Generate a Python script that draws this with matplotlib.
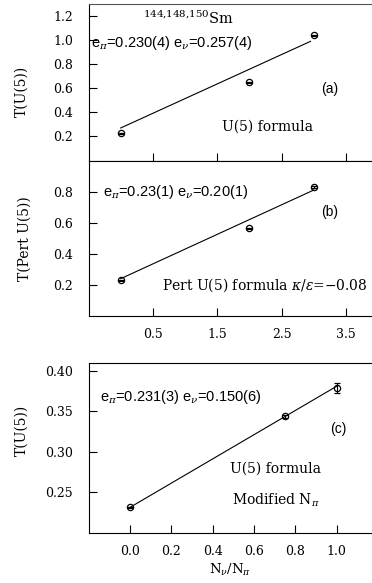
import matplotlib
matplotlib.use('Agg')
import matplotlib.pyplot as plt
import numpy as np

plt.rcParams['font.family'] = ['DejaVu Serif']
plt.rcParams['mathtext.fontset'] = 'dejavuserif'

# (a) U(5) formula
xa = [0, 2, 3]
ya = [0.228, 0.651, 1.04]
ea = [0.004, 0.004, 0.004]
fit_xa = [0, 2.95]
fit_ya = [0.27, 0.99]

# (b) perturbed U(5) formula
xb = [0, 2, 3]
yb = [0.23, 0.564, 0.83]
eb = [0.004, 0.004, 0.004]
fit_xb = [0, 3]
fit_yb = [0.24, 0.81]

# (c) modified N_pi
xc = [0.0, 0.75, 1.0]
yc = [0.231, 0.3435, 0.379]
ec = [0.001, 0.002, 0.006]
fit_xc = [0.0, 1.0]
fit_yc = [0.231, 0.381]

W, H = 372, 583
fig = plt.figure(figsize=(W / 100, H / 100), dpi=100)


def box(left, top, bottom, right=372):
    return [left / W, 1 - bottom / H, (right - left) / W, (bottom - top) / H]


ax_a = fig.add_axes(box(88.5, 4, 160.5))
ax_b = fig.add_axes(box(88.5, 160.5, 316))
ax_c = fig.add_axes(box(88.5, 362.7, 532.5))

sans = ['Liberation Sans', 'DejaVu Sans']
tick_fs = 9
efs = 10.5   # e_pi / e_nu annotations
lfs = 10     # formula labels

for ax in (ax_a, ax_b, ax_c):
    ax.spines['right'].set_visible(False)
    for s in ax.spines.values():
        s.set_linewidth(0.8)
    ax.tick_params(direction='in', length=6, width=0.8, top=False, right=False,
                   labelsize=tick_fs, pad=11)
    ax.tick_params(axis='x', pad=9)

ax_a.spines['top'].set_color('#555555')

for ax, x, y, e, fx, fy in ((ax_a, xa, ya, ea, fit_xa, fit_ya),
                            (ax_b, xb, yb, eb, fit_xb, fit_yb),
                            (ax_c, xc, yc, ec, fit_xc, fit_yc)):
    ax.plot(fx, fy, color='black', lw=0.8)
    ax.errorbar(x, y, yerr=e, fmt='o', ms=4.5, mfc='none', mec='black', mew=0.9,
                ecolor='black', elinewidth=0.8, capsize=2.2, capthick=0.8, zorder=3)

# panel (a)
ax_a.set_xlim(-0.5, 3.905)
ax_a.set_ylim(0.0, 1.3)
ax_a.set_xticks([0.5, 1.5, 2.5, 3.5])
ax_a.set_xticklabels([])
ax_a.set_yticks(np.arange(0.2, 1.21, 0.2))
ax_a.set_yticklabels(['0.2', '0.4', '0.6', '0.8', '1.0', '1.2'])
ax_a.set_ylabel('T(U(5))', fontsize=10)
ax_a.yaxis.set_label_coords(-0.21, 0.44)
fig.text(143 / W, 1 - 18 / H, r'$^{144{,}148{,}150}$Sm', fontsize=10.5, va='center',
         ha='left')
ax_a.text(0.01, 0.75, r'e$_\pi$=0.230(4) e$_\nu$=0.257(4)', transform=ax_a.transAxes,
          fontsize=efs, family=sans, va='center', ha='left')
ax_a.text(0.85, 0.46, '(a)', transform=ax_a.transAxes, fontsize=10, family=sans,
          ha='center', va='center')
ax_a.text(0.63, 0.215, 'U(5) formula', transform=ax_a.transAxes, fontsize=lfs,
          ha='center', va='center')

# panel (b)
ax_b.set_xlim(-0.5, 3.905)
ax_b.set_ylim(0.0, 1.0)
ax_b.set_xticks([0.5, 1.5, 2.5, 3.5])
ax_b.set_xticklabels(['0.5', '1.5', '2.5', '3.5'])
ax_b.set_yticks([0.2, 0.4, 0.6, 0.8])
ax_b.set_ylabel('T(Pert U(5))', fontsize=10)
ax_b.yaxis.set_label_coords(-0.2, 0.5)
ax_b.text(0.05, 0.8, r'e$_\pi$=0.23(1) e$_\nu$=0.20(1)', transform=ax_b.transAxes,
          fontsize=efs, family=sans, va='center', ha='left')
ax_b.text(0.85, 0.67, '(b)', transform=ax_b.transAxes, fontsize=10, family=sans,
          ha='center', va='center')
ax_b.text(0.985, 0.2, r'Pert U(5) formula $\kappa/\varepsilon$=−0.08',
          transform=ax_b.transAxes, fontsize=lfs, ha='right', va='center')

# panel (c)
ax_c.set_xlim(-0.2, 1.17)
ax_c.set_ylim(0.2, 0.41)
ax_c.set_xticks(np.arange(0.0, 1.01, 0.2))
ax_c.set_xticklabels(['0.0', '0.2', '0.4', '0.6', '0.8', '1.0'])
ax_c.set_yticks([0.25, 0.30, 0.35, 0.40])
ax_c.set_yticklabels(['0.25', '0.30', '0.35', '0.40'])
ax_c.set_ylabel('T(U(5))', fontsize=10)
ax_c.yaxis.set_label_coords(-0.21, 0.6)
ax_c.set_xlabel(r'N$_\nu$/N$_\pi$', fontsize=9.5, labelpad=3)
ax_c.text(0.04, 0.8, r'e$_\pi$=0.231(3) e$_\nu$=0.150(6)', transform=ax_c.transAxes,
          fontsize=efs, family=sans, va='center', ha='left')
ax_c.text(0.88, 0.61, '(c)', transform=ax_c.transAxes, fontsize=10, family=sans,
          ha='center', va='center')
ax_c.text(0.66, 0.375, 'U(5) formula', transform=ax_c.transAxes, fontsize=lfs,
          ha='center', va='center')
ax_c.text(0.66, 0.19, r'Modified N$_\pi$', transform=ax_c.transAxes, fontsize=lfs,
          ha='center', va='center')

fig.savefig('out.png', dpi=100)
